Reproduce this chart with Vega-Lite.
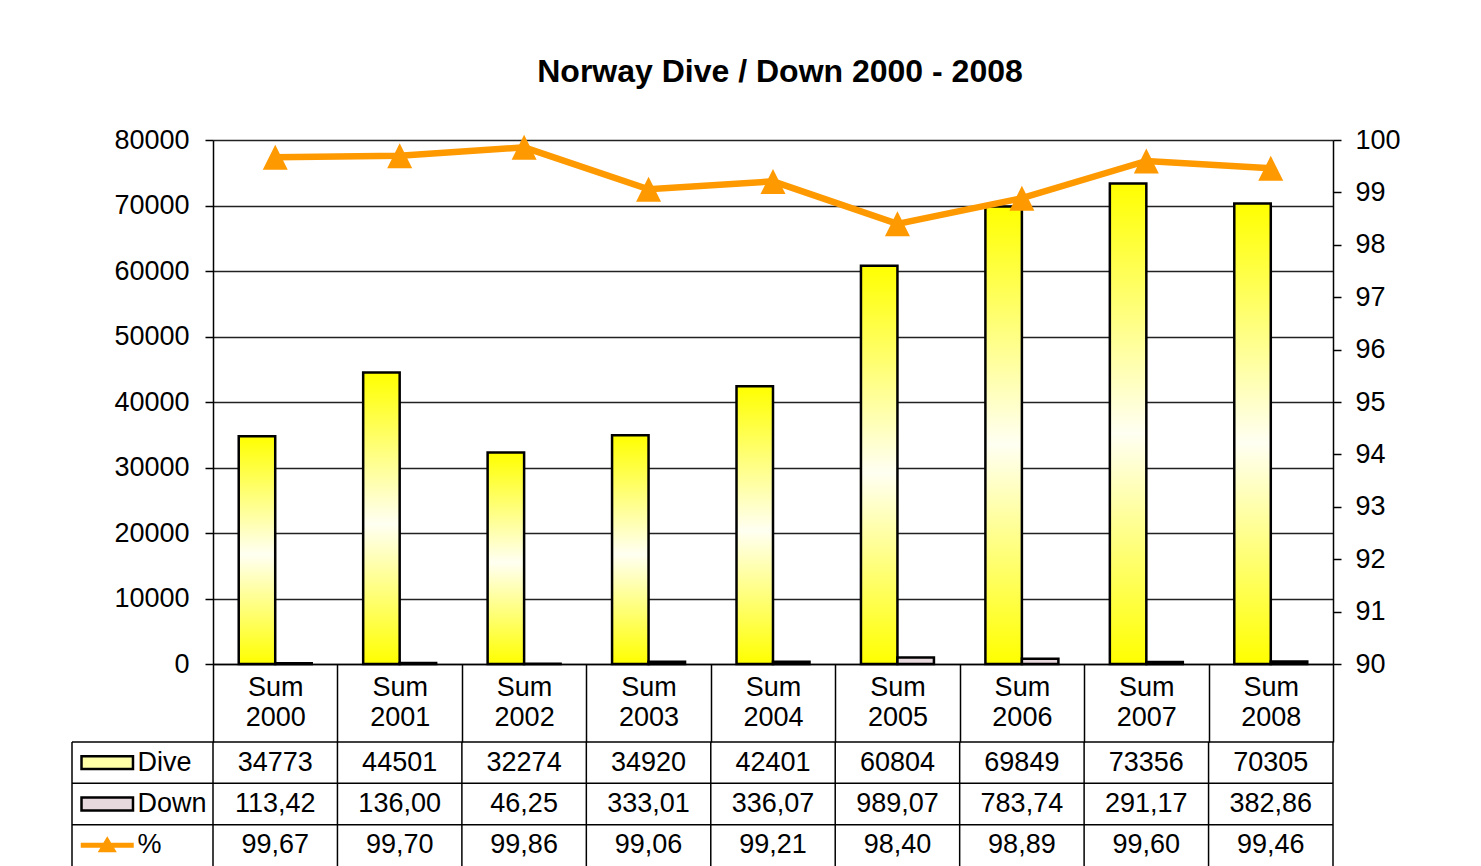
{
  "$schema": "https://vega.github.io/schema/vega-lite/v6.json",
  "padding": {"left": 71, "top": 56, "right": 10, "bottom": 0},
  "background": "white",
  "config": {
    "font": "Liberation Sans",
    "view": {"stroke": null},
    "locale": {"number": {"decimal": ",", "thousands": ".", "grouping": [3], "currency": ["", ""]}}
  },
  "datasets": {
    "d": [
      {"year": "2000", "dive": 34773, "down": 113.42, "pct": 99.67},
      {"year": "2001", "dive": 44501, "down": 136.00, "pct": 99.70},
      {"year": "2002", "dive": 32274, "down": 46.25, "pct": 99.86},
      {"year": "2003", "dive": 34920, "down": 333.01, "pct": 99.06},
      {"year": "2004", "dive": 42401, "down": 336.07, "pct": 99.21},
      {"year": "2005", "dive": 60804, "down": 989.07, "pct": 98.40},
      {"year": "2006", "dive": 69849, "down": 783.74, "pct": 98.89},
      {"year": "2007", "dive": 73356, "down": 291.17, "pct": 99.60},
      {"year": "2008", "dive": 70305, "down": 382.86, "pct": 99.46}
    ],
    "legendrows": [{"s": "Dive"}, {"s": "Down"}, {"s": "%"}]
  },
  "columns": 2,
  "bounds": "flush",
  "spacing": {"row": 78, "column": 0},
  "concat": [
    {
      "width": 141, "height": 524,
      "data": {"values": []},
      "mark": "point",
      "encoding": {}
    },
    {
      "width": 1120, "height": 524,
      "data": {"name": "d"},
      "title": {"text": "Norway Dive / Down 2000 - 2008", "fontSize": 32, "fontWeight": "bold", "color": "black", "anchor": "middle", "frame": "group", "offset": 37, "dx": 7},
      "layer": [
        {
          "layer": [
            {
              "transform": [{"fold": ["dive", "down"], "as": ["series", "val"]}, {"filter": "datum.series === 'dive'"}],
              "mark": {"type": "bar", "stroke": "black", "strokeWidth": 2.5,
                "color": {"gradient": "linear", "x1": 0, "y1": 0, "x2": 0, "y2": 1,
                  "stops": [{"offset": 0, "color": "#FFFF00"}, {"offset": 0.52, "color": "#FFFFF2"}, {"offset": 1, "color": "#FFFF00"}]}},
              "encoding": {
                "x": {"field": "year", "type": "nominal", "scale": {"paddingInner": 0, "paddingOuter": 0},
                  "axis": {"title": null, "domain": true, "domainColor": "black", "domainWidth": 1.5,
                    "tickBand": "extent", "tickSize": 78, "tickColor": "black", "tickWidth": 1.5,
                    "labelExpr": "(datum.extra || datum.value == null || datum.value === '') ? '' : ['Sum', datum.value]",
                    "labelFontSize": 27, "labelColor": "black",
                    "labelAngle": 0, "labelPadding": -68, "labelLineHeight": 30, "labelBaseline": "top"}},
                "xOffset": {"field": "series", "type": "nominal", "scale": {"domain": ["dive", "down"], "paddingInner": 0, "paddingOuter": 0.705}},
                "y": {"field": "val", "type": "quantitative", "scale": {"domain": [0, 80000]},
                  "axis": {"title": null, "values": [0, 10000, 20000, 30000, 40000, 50000, 60000, 70000, 80000],
                    "format": "d", "grid": true, "gridColor": "#222222", "gridWidth": 1.5,
                    "domainColor": "black", "domainWidth": 1.5, "tickColor": "black", "tickSize": 8, "tickWidth": 1.5,
                    "labelFontSize": 27, "labelColor": "black", "labelPadding": 16}}
              }
            },
            {
              "transform": [{"fold": ["dive", "down"], "as": ["series", "val"]}, {"filter": "datum.series === 'down'"}],
              "mark": {"type": "bar", "stroke": "black", "strokeWidth": 2.5, "color": "#E6D8DC"},
              "encoding": {
                "x": {"field": "year", "type": "nominal"},
                "xOffset": {"field": "series", "type": "nominal"},
                "y": {"field": "val", "type": "quantitative"}
              }
            }
          ]
        },
        {
          "mark": {"type": "line", "color": "#FF9900", "strokeWidth": 6.5,
            "point": {"shape": "M0,-1L1,1L-1,1Z", "size": 625, "filled": true, "color": "#FF9900"}},
          "encoding": {
            "x": {"field": "year", "type": "nominal"},
            "y": {"field": "pct", "type": "quantitative", "scale": {"domain": [90, 100]},
              "axis": {"orient": "right", "title": null, "values": [90, 91, 92, 93, 94, 95, 96, 97, 98, 99, 100],
                "format": "d", "grid": false, "domainColor": "black", "domainWidth": 1.5,
                "tickColor": "black", "tickSize": 8, "tickWidth": 1.5,
                "labelFontSize": 27, "labelColor": "black", "labelPadding": 14}}
          }
        }
      ],
      "resolve": {"scale": {"y": "independent"}}
    },
    {
      "width": 141, "height": 124,
      "data": {"name": "legendrows"},
      "layer": [
        {
          "mark": {"type": "rule", "color": "black", "strokeWidth": 1.5},
          "encoding": {
            "y": {"field": "s", "type": "nominal", "bandPosition": 0,
              "scale": {"domain": ["Dive", "Down", "%"], "paddingInner": 0, "paddingOuter": 0}, "axis": null}
          }
        },
        {
          "transform": [{"filter": "datum.s === 'Dive'"}],
          "mark": {"type": "rule", "color": "black", "strokeWidth": 1.5},
          "encoding": {
            "x": {"datum": "sym", "type": "nominal", "bandPosition": 0,
              "scale": {"domain": ["sym", "lab"], "paddingInner": 0, "paddingOuter": 0}, "axis": null}
          }
        },
        {
          "transform": [{"filter": "datum.s === 'Dive'"}],
          "mark": {"type": "point", "shape": "M-1,-0.25H1V0.25H-1Z", "size": 2650, "filled": true,
            "fill": "#FFFFA8", "stroke": "black", "strokeWidth": 2.5, "opacity": 1},
          "encoding": {
            "x": {"datum": "sym", "type": "nominal"},
            "y": {"field": "s", "type": "nominal"}
          }
        },
        {
          "transform": [{"filter": "datum.s === 'Down'"}],
          "mark": {"type": "point", "shape": "M-1,-0.25H1V0.25H-1Z", "size": 2650, "filled": true,
            "fill": "#E6D8DC", "stroke": "black", "strokeWidth": 2.5, "opacity": 1},
          "encoding": {
            "x": {"datum": "sym", "type": "nominal"},
            "y": {"field": "s", "type": "nominal"}
          }
        },
        {
          "transform": [{"filter": "datum.s === '%'"}],
          "mark": {"type": "point", "shape": "M-1,-0.094H1V0.094H-1Z M0,-0.34L0.36,0.26H-0.36Z", "size": 2809, "filled": true,
            "fill": "#FF9900", "strokeWidth": 0, "opacity": 1},
          "encoding": {
            "x": {"datum": "sym", "type": "nominal"},
            "y": {"field": "s", "type": "nominal"}
          }
        },
        {
          "mark": {"type": "text", "align": "left", "dx": -5, "fontSize": 27, "color": "black"},
          "encoding": {
            "x": {"datum": "lab", "type": "nominal", "bandPosition": 0},
            "y": {"field": "s", "type": "nominal"},
            "text": {"field": "s"}
          }
        }
      ]
    },
    {
      "width": 1120, "height": 124,
      "data": {"name": "d"},
      "layer": [
        {
          "mark": {"type": "rule", "color": "black", "strokeWidth": 1.5},
          "encoding": {
            "x": {"field": "year", "type": "nominal", "bandPosition": 0,
              "scale": {"paddingInner": 0, "paddingOuter": 0}, "axis": null}
          }
        },
        {
          "transform": [{"filter": "datum.year === '2008'"}],
          "mark": {"type": "rule", "color": "black", "strokeWidth": 1.5},
          "encoding": {
            "x": {"field": "year", "type": "nominal", "bandPosition": 1}
          }
        },
        {
          "data": {"name": "legendrows"},
          "mark": {"type": "rule", "color": "black", "strokeWidth": 1.5},
          "encoding": {
            "y": {"field": "s", "type": "nominal", "bandPosition": 0,
              "scale": {"domain": ["Dive", "Down", "%"], "paddingInner": 0, "paddingOuter": 0}, "axis": null}
          }
        },
        {
          "mark": {"type": "text", "fontSize": 27, "color": "black"},
          "encoding": {
            "x": {"field": "year", "type": "nominal"},
            "y": {"datum": "Dive", "type": "nominal"},
            "text": {"field": "dive", "type": "quantitative", "format": "d"}
          }
        },
        {
          "mark": {"type": "text", "fontSize": 27, "color": "black"},
          "encoding": {
            "x": {"field": "year", "type": "nominal"},
            "y": {"datum": "Down", "type": "nominal"},
            "text": {"field": "down", "type": "quantitative", "format": ".2f"}
          }
        },
        {
          "mark": {"type": "text", "fontSize": 27, "color": "black"},
          "encoding": {
            "x": {"field": "year", "type": "nominal"},
            "y": {"datum": "%", "type": "nominal"},
            "text": {"field": "pct", "type": "quantitative", "format": ".2f"}
          }
        }
      ]
    }
  ]
}
